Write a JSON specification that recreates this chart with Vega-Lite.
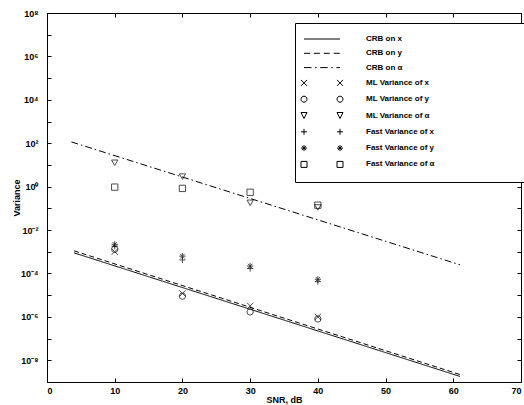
{
  "$schema": "https://vega.github.io/schema/vega-lite/v6.json",
  "width": 474,
  "height": 369,
  "autosize": "none",
  "padding": {"left": 47, "top": 13, "right": 3, "bottom": 23},
  "background": "white",
  "data": {"values": [
    {"kind": "crb", "series": "CRB on x", "snr": 4, "var": 0.00089},
    {"kind": "crb", "series": "CRB on x", "snr": 61, "var": 1.8e-9},
    {"kind": "crb", "series": "CRB on y", "snr": 4, "var": 0.0011},
    {"kind": "crb", "series": "CRB on y", "snr": 61, "var": 2.2e-9},
    {"kind": "crb", "series": "CRB on α", "snr": 3.6, "var": 115},
    {"kind": "crb", "series": "CRB on α", "snr": 61, "var": 0.00025},
    {"kind": "est", "series": "ML Variance of x", "snr": 10, "var": 0.001},
    {"kind": "est", "series": "ML Variance of y", "snr": 10, "var": 0.0013},
    {"kind": "est", "series": "ML Variance of α", "snr": 10, "var": 12.6},
    {"kind": "est", "series": "Fast Variance of x", "snr": 10, "var": 0.0018},
    {"kind": "est", "series": "Fast Variance of y", "snr": 10, "var": 0.0022},
    {"kind": "est", "series": "Fast Variance of α", "snr": 10, "var": 0.95},
    {"kind": "est", "series": "ML Variance of x", "snr": 20, "var": 1.2e-5},
    {"kind": "est", "series": "ML Variance of y", "snr": 20, "var": 9e-6},
    {"kind": "est", "series": "ML Variance of α", "snr": 20, "var": 2.9},
    {"kind": "est", "series": "Fast Variance of x", "snr": 20, "var": 0.00042},
    {"kind": "est", "series": "Fast Variance of y", "snr": 20, "var": 0.00063},
    {"kind": "est", "series": "Fast Variance of α", "snr": 20, "var": 0.83},
    {"kind": "est", "series": "ML Variance of x", "snr": 30, "var": 3.2e-6},
    {"kind": "est", "series": "ML Variance of y", "snr": 30, "var": 1.7e-6},
    {"kind": "est", "series": "ML Variance of α", "snr": 30, "var": 0.18},
    {"kind": "est", "series": "Fast Variance of x", "snr": 30, "var": 0.00017},
    {"kind": "est", "series": "Fast Variance of y", "snr": 30, "var": 0.00022},
    {"kind": "est", "series": "Fast Variance of α", "snr": 30, "var": 0.55},
    {"kind": "est", "series": "ML Variance of x", "snr": 40, "var": 1e-6},
    {"kind": "est", "series": "ML Variance of y", "snr": 40, "var": 8e-7},
    {"kind": "est", "series": "ML Variance of α", "snr": 40, "var": 0.11},
    {"kind": "est", "series": "Fast Variance of x", "snr": 40, "var": 4.2e-5},
    {"kind": "est", "series": "Fast Variance of y", "snr": 40, "var": 5.4e-5},
    {"kind": "est", "series": "Fast Variance of α", "snr": 40, "var": 0.14}
  ]},
  "layer": [
    {
      "transform": [{"filter": "datum.kind === 'crb'"}],
      "mark": {"type": "line", "color": "black", "strokeWidth": 1},
      "encoding": {
        "x": {"field": "snr", "type": "quantitative", "scale": {"domain": [0, 70], "nice": false, "zero": false},
              "axis": {"orient": "top", "labels": false, "title": null, "values": [0,10,20,30,40,50,60,70]}},
        "y": {"field": "var", "type": "quantitative", "scale": {"type": "log", "domain": [1e-9, 1e8], "nice": false},
              "axis": {"orient": "right", "labels": false, "title": null, "values": [1e8,1e7,1e6,1e5,1e4,1e3,1e2,1e1,1,0.1,0.01,0.001,0.0001,1e-5,1e-6,1e-7,1e-8,1e-9]}},
        "strokeDash": {"field": "series", "type": "nominal",
                       "scale": {"domain": ["CRB on x", "CRB on y", "CRB on α"], "range": [[1, 0], [5, 3], [7, 3, 1.5, 3]]},
                       "legend": null},
        "detail": {"field": "series", "type": "nominal"}
      }
    },
    {
      "transform": [{"filter": "datum.kind === 'est'"}],
      "mark": {"type": "point", "filled": false, "color": "black", "strokeWidth": 1, "size": 40},
      "encoding": {
        "x": {"field": "snr", "type": "quantitative", "scale": {"domain": [0, 70], "nice": false, "zero": false},
              "axis": {"orient": "bottom", "title": "SNR, dB", "values": [0,10,20,30,40,50,60,70], "labelPadding": 8, "titlePadding": 0}},
        "y": {"field": "var", "type": "quantitative", "scale": {"type": "log", "domain": [1e-9, 1e8], "nice": false},
              "axis": {"orient": "left", "title": "Variance", "labelPadding": 13, "titlePadding": -1,
                       "values": [1e8,1e7,1e6,1e5,1e4,1e3,1e2,1e1,1,0.1,0.01,0.001,0.0001,1e-5,1e-6,1e-7,1e-8,1e-9],
                       "labelExpr": "['10⁸','','10⁶','','10⁴','','10²','','10⁰','','10⁻²','','10⁻⁴','','10⁻⁶','','10⁻⁸',''][8-round(log(datum.value)/LN10)]"}},
        "shape": {"field": "series", "type": "nominal",
                  "scale": {"domain": ["ML Variance of x", "ML Variance of y", "ML Variance of α", "Fast Variance of x", "Fast Variance of y", "Fast Variance of α"],
                            "range": ["M-1,-1L1,1M-1,1L1,-1", "circle", "triangle-down", "M-1,0L1,0M0,-1L0,1", "M-1,0L1,0M0,-1L0,1M-0.7,-0.7L0.7,0.7M-0.7,0.7L0.7,-0.7", "square"]},
                  "legend": null}
      }
    },
    {
      "mark": {"type": "point", "filled": false, "color": "black", "strokeWidth": 1, "size": 36, "opacity": 0},
      "encoding": {
        "x": {"field": "snr", "type": "quantitative", "axis": null},
        "y": {"field": "var", "type": "quantitative", "axis": null},
        "shape": {"field": "series", "type": "nominal",
                  "scale": {"domain": ["CRB on x", "CRB on y", "CRB on α", "ML Variance of x", "ML Variance of y", "ML Variance of α", "Fast Variance of x", "Fast Variance of y", "Fast Variance of α"],
                            "range": [
                              "M-6,0H6",
                              "M-6,0H-4M-2.7,0H-0.7M0.6,0H2.6M3.9,0H5.9",
                              "M-6,0H-3.5M-2.3,0H-1.8M-0.6,0H1.9M3.1,0H3.6M4.8,0H6",
                              "M-7,-1L-5,1M-7,1L-5,-1M5,-1L7,1M5,1L7,-1",
                              "M-5,0A1,1,0,1,1,-7,0A1,1,0,1,1,-5,0M7,0A1,1,0,1,1,5,0A1,1,0,1,1,7,0",
                              "M-7,-1H-5L-6,1ZM5,-1H7L6,1Z",
                              "M-7,0H-5M-6,-1V1M5,0H7M6,-1V1",
                              "M-7,0H-5M-6,-1V1M-6.7,-0.7L-5.3,0.7M-6.7,0.7L-5.3,-0.7M5,0H7M6,-1V1M5.3,-0.7L6.7,0.7M5.3,0.7L6.7,-0.7",
                              "M-7,-1H-5V1H-7ZM5,-1H7V1H5Z"
                            ]},
                  "legend": {
                    "title": null, "orient": "none", "legendX": 248, "legendY": 10,
                    "padding": 12, "strokeColor": "black", "fillColor": "white",
                    "symbolSize": 36, "symbolOffset": 11, "labelOffset": 40, "rowPadding": 6.3,
                    "symbolOpacity": 1, "symbolStrokeColor": "black", "symbolFillColor": "transparent", "symbolStrokeWidth": 1,
                    "labelFont": "Liberation Sans", "labelFontSize": 8, "labelFontWeight": "bold", "labelColor": "black", "labelLimit": 400,
                    "labelExpr": "pad(datum.label, 54, '\u00a0') + '\u200b'"
                  }}
      }
    }
  ],
  "resolve": {"axis": {"x": "independent", "y": "independent"}, "scale": {"shape": "independent"}},
  "config": {
    "view": {"stroke": null},
    "axis": {
      "grid": false, "domainColor": "black", "tickColor": "black", "labelColor": "black", "titleColor": "black",
      "labelFont": "Liberation Sans", "titleFont": "Liberation Sans", "labelFontSize": 9, "labelFontWeight": "bold",
      "titleFontSize": 9, "titleFontWeight": "bold", "tickSize": -4, "domainWidth": 1, "tickWidth": 1
    }
  }
}
